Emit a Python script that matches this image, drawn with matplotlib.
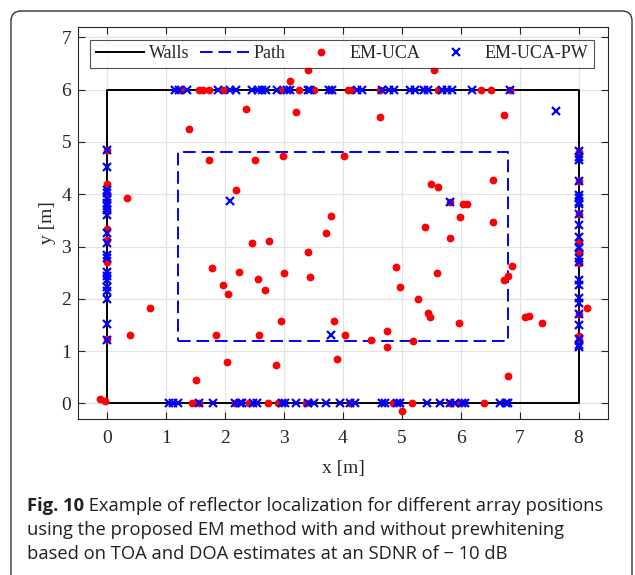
import numpy as np
import matplotlib
matplotlib.use("Agg")
import matplotlib.pyplot as plt
from matplotlib.patches import FancyBboxPatch
from matplotlib.transforms import IdentityTransform

# ---------------- data ----------------
walls_x = [0, 8, 8, 0, 0]
walls_y = [0, 0, 6, 6, 0]
path_x = [1.2, 6.8, 6.8, 1.2, 1.2]
path_y = [1.2, 1.2, 4.8, 4.8, 1.2]

# EM-UCA (red dots)
uca_inner_x = [1.38, 1.72, 2.36, 2.50, 2.98, 2.19, 0.34, 3.10, 3.20, 3.41, 3.80, 4.02,
               5.55, 4.63, 6.74, 6.55, 5.49, 5.61, 6.04, 6.11, 5.99, 6.55, 5.40, 5.81,
               1.78, 1.96, 2.05, 2.24, 2.46, 2.56, 2.74, 2.68, 3.00, 2.95, 1.84, 2.58,
               3.40, 3.44, 3.71, 3.84, 4.03, 3.90, 2.87, 2.03, 1.50, 0.73, 0.38, -0.13, -0.05,
               4.48, 4.75, 4.74, 4.90, 4.96, 5.27, 5.44, 5.47, 5.19, 5.60, 5.81, 5.97,
               6.73, 6.80, 6.87, 6.80, 7.09, 7.16, 7.38, 8.14, 5.01]
uca_inner_y = [5.25, 4.66, 5.64, 4.66, 4.74, 4.09, 3.92, 6.16, 5.57, 6.37, 3.59, 4.74,
               6.38, 5.48, 5.51, 4.27, 4.19, 4.13, 3.81, 3.81, 3.56, 3.46, 3.38, 3.86,
               2.58, 2.27, 2.09, 2.52, 3.07, 2.37, 3.10, 2.17, 2.49, 1.58, 1.31, 1.31,
               2.90, 2.42, 3.25, 1.57, 1.31, 0.85, 0.74, 0.80, 0.45, 1.83, 1.31, 0.09, 0.04,
               1.22, 1.38, 1.08, 2.60, 2.23, 2.00, 1.72, 1.65, 1.20, 2.50, 3.17, 1.53,
               2.36, 2.43, 2.63, 0.52, 1.65, 1.68, 1.54, 1.82, -0.15]
uca_top_x = [1.25, 1.55, 1.63, 1.72, 1.96, 2.93, 3.26, 3.51, 3.80, 4.08, 4.16, 4.63,
             5.62, 6.35, 6.51, 6.84]
uca_bottom_x = [1.44, 1.55, 2.16, 2.41, 2.73, 2.89, 3.38, 4.12, 4.85, 5.17, 5.82, 5.96, 6.39]
uca_left_y = [4.84, 4.19, 3.98, 3.68, 3.34, 3.13, 2.71, 1.24]
uca_right_y = [4.80, 4.25, 3.62, 3.10, 2.90, 2.87, 2.68, 1.70, 1.28, 1.21]

# EM-UCA-PW (blue crosses)
pw_inner_x = [7.62, 5.81, 2.08, 3.80]
pw_inner_y = [5.60, 3.86, 3.88, 1.31]
pw_top_x = [1.15, 1.21, 1.35, 1.88, 2.08, 2.18, 2.45, 2.55, 2.62, 2.69, 2.88, 3.05, 3.10,
            3.41, 3.44, 3.76, 3.82, 4.24, 4.32, 4.66, 4.78, 4.86, 5.14, 5.23, 5.37, 5.45,
            5.68, 5.77, 5.85, 6.19, 6.84]
pw_bottom_x = [1.04, 1.12, 1.19, 1.55, 1.79, 2.17, 2.25, 2.28, 2.48, 2.54, 2.96, 3.02, 3.21,
               3.41, 3.50, 3.71, 3.95, 4.12, 4.20, 4.66, 4.72, 4.92, 4.97, 5.43, 5.65, 5.81,
               5.91, 6.02, 6.08, 6.67, 6.76, 6.81]
pw_left_y = [4.84, 4.53, 4.09, 4.02, 3.93, 3.83, 3.77, 3.70, 3.61, 3.25, 3.06, 2.84, 2.78,
             2.52, 2.43, 2.36, 2.22, 2.14, 2.00, 1.52, 1.21]
pw_right_y = [4.82, 4.72, 4.66, 4.26, 3.99, 3.93, 3.86, 3.82, 3.62, 3.41, 3.19, 3.00, 2.97,
              2.78, 2.71, 2.36, 2.27, 2.01, 1.91, 1.70, 1.50, 1.24, 1.12, 1.08]

x_ticks = [0, 1, 2, 3, 4, 5, 6, 7, 8]
y_ticks = [0, 1, 2, 3, 4, 5, 6, 7]

caption_bold = "Fig. 10"
caption_lines = [" Example of reflector localization for different array positions",
                 "using the proposed EM method with and without prewhitening",
                 "based on TOA and DOA estimates at an SDNR of \u2212 10 dB"]

# assemble point sets
uca_x = (uca_inner_x + uca_top_x + uca_bottom_x
         + [0] * len(uca_left_y) + [8] * len(uca_right_y))
uca_y = (uca_inner_y + [6] * len(uca_top_x) + [0] * len(uca_bottom_x)
         + uca_left_y + uca_right_y)
pw_x = (pw_inner_x + pw_top_x + pw_bottom_x
        + [0] * len(pw_left_y) + [8] * len(pw_right_y))
pw_y = (pw_inner_y + [6] * len(pw_top_x) + [0] * len(pw_bottom_x)
        + pw_left_y + pw_right_y)

# ---------------- figure ----------------
W, H = 635, 575
fig = plt.figure(figsize=(W / 100, H / 100), dpi=100)
serif = ["Liberation Serif", "DejaVu Serif"]
tc = "#262626"

ax = fig.add_axes([78 / W, 1 - 419 / H, (608 - 78) / W, (419 - 27) / H])

ax.plot(walls_x, walls_y, color="black", lw=1.4, label="Walls", zorder=3)
ax.plot(path_x, path_y, color="#0000ff", lw=1.4, linestyle=(0, (6.5, 3.0)),
        label="Path", zorder=3)
ax.plot(uca_x, uca_y, linestyle="none", marker="o", ms=4.6, color="#ff0000",
        mec="#ff0000", label="EM-UCA", zorder=4)
ax.plot(pw_x, pw_y, linestyle="none", marker="x", ms=6.0, mew=1.6, color="#0000ff",
        label="EM-UCA-PW", zorder=5)

ax.set_xlim(-0.5, 8.5)
ax.set_ylim(-0.3, 7.2)
ax.set_xticks(x_ticks)
ax.set_yticks(y_ticks)
ax.grid(True, color="#e3e3e3", lw=0.9)
ax.set_axisbelow(True)
ax.tick_params(direction="in", top=True, right=True, length=5, width=0.8,
               colors=tc, labelsize=14)
ax.tick_params(axis="x", pad=8)
ax.tick_params(axis="y", pad=5)
for lab in ax.get_xticklabels() + ax.get_yticklabels():
    lab.set_family(serif)
for s in ax.spines.values():
    s.set_color(tc)
    s.set_linewidth(0.8)

ax.set_xlabel("x [m]", fontsize=14, family=serif, color=tc, labelpad=9)
ax.set_ylabel("y [m]", fontsize=14, family=serif, color=tc, labelpad=4)

leg = ax.legend(loc="upper center", bbox_to_anchor=(0.498, 0.967), ncol=4,
                prop={"family": serif, "size": 13}, frameon=True, fancybox=False,
                handlelength=2.7, columnspacing=0.6, handletextpad=0.25,
                borderpad=0.3, borderaxespad=0.0)
leg.get_frame().set_edgecolor(tc)
leg.get_frame().set_linewidth(0.8)
for t in leg.get_texts():
    t.set_color(tc)

# figure frame with rounded corners
frame = FancyBboxPatch((11, -30), 621, 564 + 30, boxstyle="round,pad=0,rounding_size=10",
                       transform=IdentityTransform(), facecolor="none",
                       edgecolor="#333333", lw=1.0)
fig.patches.append(frame)

# caption
cap_font = ["Open Sans", "DejaVu Sans"]
cap_size = 13.2
x0 = 27 / W
y_lines = [1 - 511 / H, 1 - 535 / H, 1 - 559 / H]
tb = fig.text(x0, y_lines[0], caption_bold, fontsize=cap_size, family=cap_font,
              weight="bold", color="#231f20", va="baseline")
fig.canvas.draw()
bb = tb.get_window_extent(renderer=fig.canvas.get_renderer())
fig.text(bb.x1 / W, y_lines[0], caption_lines[0], fontsize=cap_size, family=cap_font,
         color="#231f20", va="baseline")
for yl, line in zip(y_lines[1:], caption_lines[1:]):
    fig.text(x0, yl, line, fontsize=cap_size, family=cap_font, color="#231f20",
             va="baseline")

fig.savefig("out.png", dpi=100)
